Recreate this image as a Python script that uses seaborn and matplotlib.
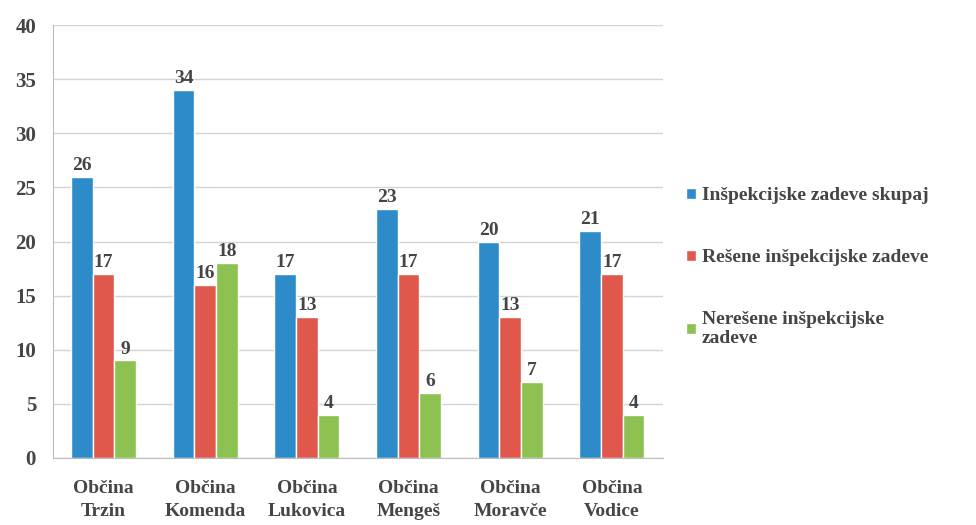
import pandas as pd
import matplotlib.pyplot as plt
import seaborn as sns

# -------------------------------
# Data
# -------------------------------
categories = ["Občina\nTrzin", "Občina\nKomenda", "Občina\nLukovica",
              "Občina\nMengeš", "Občina\nMoravče", "Občina\nVodice"]
skupaj = [26, 34, 17, 23, 20, 21]
resene = [17, 16, 13, 17, 13, 17]
neresene = [9, 18, 4, 6, 7, 4]
series_names = ["Inšpekcijske zadeve skupaj",
                "Rešene inšpekcijske zadeve",
                "Nerešene inšpekcijske\nzadeve"]

df = pd.DataFrame({
    "Občina": categories * 3,
    "Serija": [series_names[0]] * 6 + [series_names[1]] * 6 + [series_names[2]] * 6,
    "Število": skupaj + resene + neresene,
})

# -------------------------------
# Style
# -------------------------------
sns.set_style("white")
plt.rcParams["font.family"] = ["Liberation Serif", "DejaVu Serif"]
plt.rcParams["font.weight"] = "bold"
text_col = "#454545"
colors = ["#2E8BC9", "#E0584B", "#8DC152"]

fig = plt.figure(figsize=(9.76, 5.25), dpi=100)
ax = fig.add_axes([0.054, 0.128, 0.625, 0.824])

sns.barplot(data=df, x="Občina", y="Število", hue="Serija",
            palette=colors, width=0.64, saturation=1, ax=ax)

# value labels
for cont in ax.containers:
    ax.bar_label(cont, padding=2, fontsize=14, fontweight="bold", color=text_col)

ax.set_ylim(0, 40)
ax.set_yticks(range(0, 41, 5))
ax.set_xlim(-0.5, 5.5)
ax.yaxis.grid(True, color="#d4d4d4", linewidth=1)
ax.set_axisbelow(True)
ax.set_xlabel("")
ax.set_ylabel("")

for s in ["top", "right"]:
    ax.spines[s].set_visible(False)
ax.spines["left"].set_color("#bbbbbb")
ax.spines["bottom"].set_color("#bbbbbb")

ax.tick_params(axis="y", length=0, labelsize=15, labelcolor=text_col, pad=12)
ax.tick_params(axis="x", length=0, labelsize=14, labelcolor=text_col, pad=16)
ax.set_xticks(range(6))
ax.set_xticklabels(categories, fontweight="bold", linespacing=1.45)
ax.set_xticks([i + 0.5 for i in range(-1, 6)], minor=True)
ax.tick_params(axis="x", which="minor", length=5, color="#bbbbbb")

leg = ax.legend(loc="center left", bbox_to_anchor=(1.01, 0.44), frameon=False,
                fontsize=14, labelspacing=2.3, handlelength=0.5, handleheight=0.5,
                handletextpad=0.3)
for t in leg.get_texts():
    t.set_color(text_col)
    t.set_fontweight("bold")

plt.savefig("out.png", dpi=100)
